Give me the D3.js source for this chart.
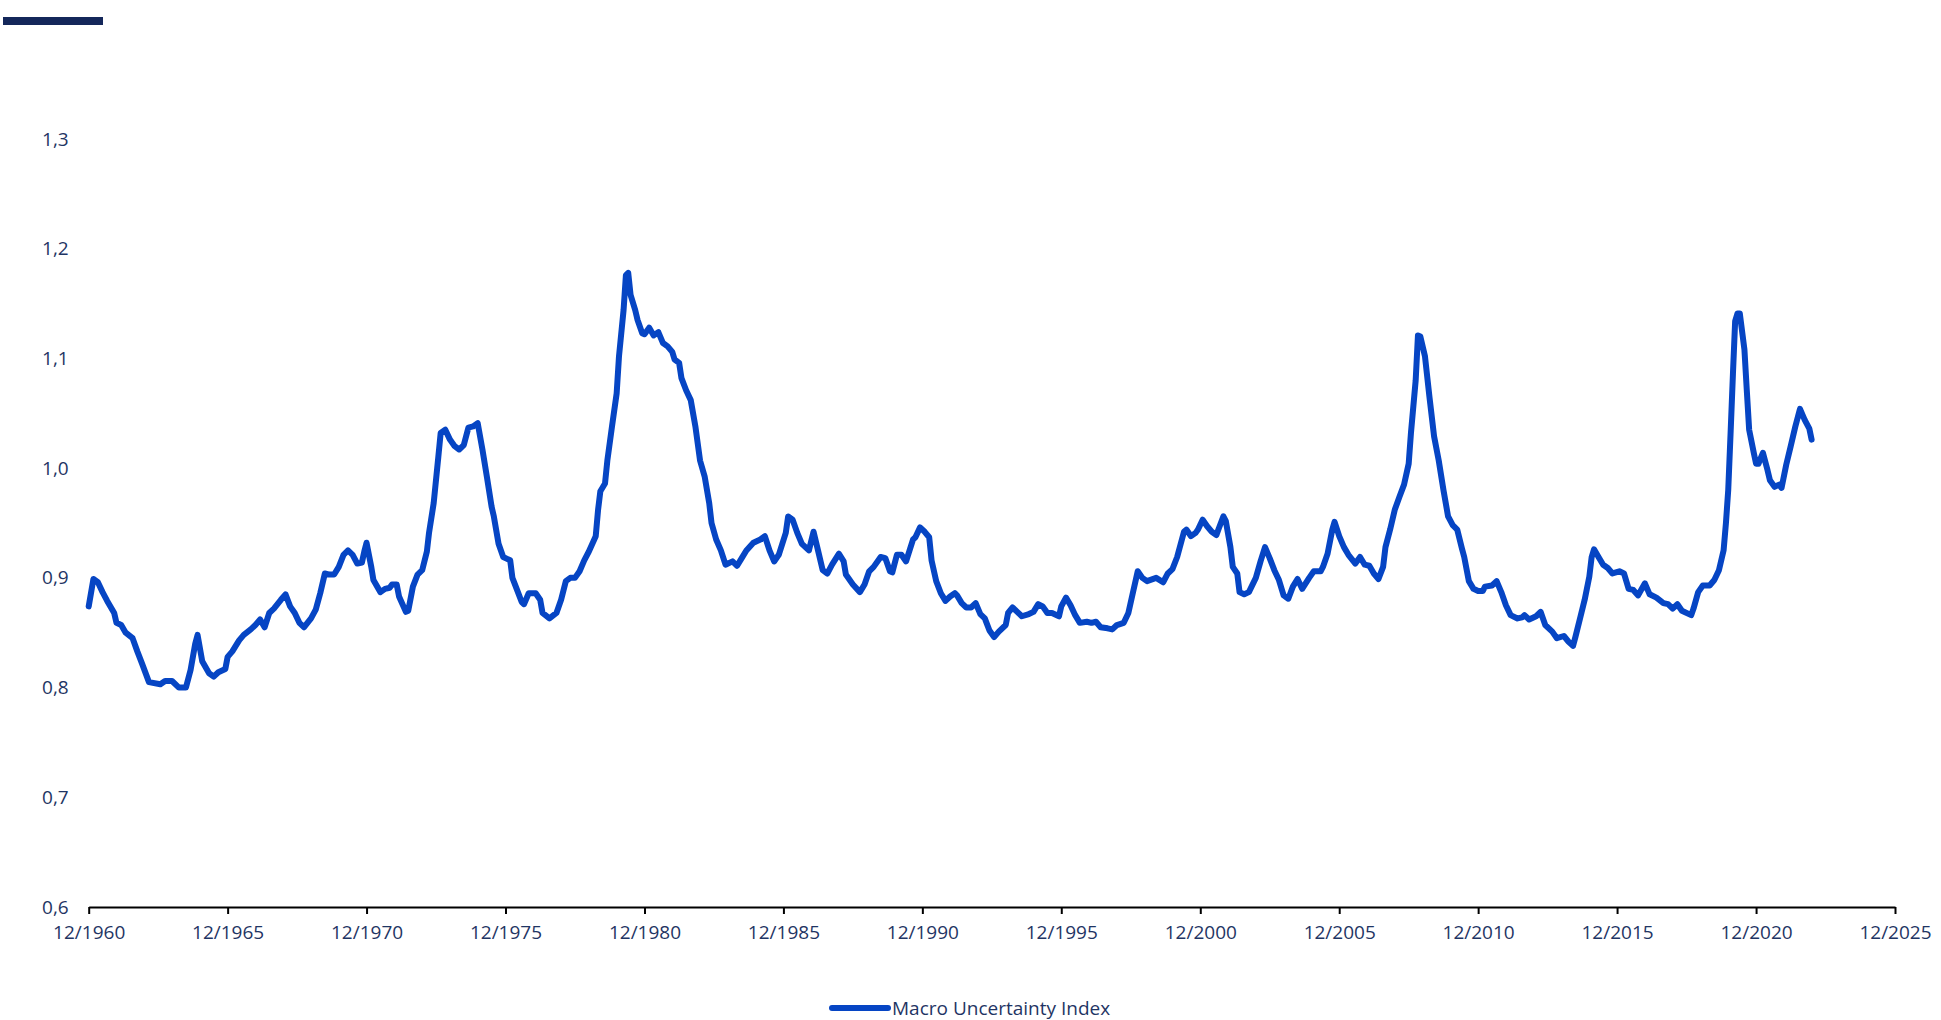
<!DOCTYPE html>
<html>
<head>
<meta charset="utf-8">
<script src="https://cdn.jsdelivr.net/npm/d3@7"></script>
<style>
  body { margin: 0; background: #fff; }
  text { font-family: "Open Sans", sans-serif; }
</style>
</head>
<body>
<script>
// Macro Uncertainty Index
var dates = [
  "1960-12","1961-02","1961-04","1961-06","1961-08","1961-11","1961-12","1962-02","1962-04","1962-07",
  "1962-09","1962-11","1963-02","1963-07","1963-09","1963-12","1964-03","1964-06","1964-08","1964-10",
  "1964-11","1965-01","1965-04","1965-06","1965-08","1965-11","1965-12","1966-02","1966-05","1966-07",
  "1966-10","1966-12","1967-02","1967-04","1967-06","1967-08","1967-11","1968-01","1968-03","1968-05",
  "1968-07","1968-09","1968-12","1969-02","1969-04","1969-06","1969-08","1969-10","1969-12","1970-02",
  "1970-04","1970-06","1970-08","1970-10","1970-11","1970-12","1971-02","1971-03","1971-06","1971-08",
  "1971-10","1971-11","1972-01","1972-02","1972-05","1972-06","1972-08","1972-10","1972-12","1973-02",
  "1973-03","1973-05","1973-07","1973-08","1973-10","1973-12","1974-02","1974-04","1974-06","1974-08",
  "1974-10","1974-12","1975-02","1975-04","1975-06","1975-07","1975-09","1975-11","1976-02","1976-03",
  "1976-05","1976-07","1976-08","1976-10","1977-01","1977-03","1977-04","1977-07","1977-10","1977-12",
  "1978-02","1978-04","1978-06","1978-08","1978-10","1978-12","1979-03","1979-04","1979-05","1979-07",
  "1979-08","1979-10","1979-12","1980-01","1980-03","1980-04","1980-05","1980-06","1980-08","1980-09",
  "1980-11","1980-12","1981-02","1981-04","1981-06","1981-08","1981-10","1981-12","1982-01","1982-03",
  "1982-04","1982-06","1982-08","1982-10","1982-12","1983-02","1983-04","1983-05","1983-07","1983-09",
  "1983-11","1984-02","1984-04","1984-06","1984-08","1984-11","1985-02","1985-04","1985-06","1985-08",
  "1985-10","1986-01","1986-02","1986-04","1986-06","1986-08","1986-11","1987-01","1987-03","1987-05",
  "1987-07","1987-09","1987-12","1988-02","1988-03","1988-06","1988-09","1988-11","1989-01","1989-03",
  "1989-06","1989-08","1989-10","1989-11","1990-01","1990-03","1990-05","1990-08","1990-09","1990-11",
  "1991-01","1991-03","1991-04","1991-06","1991-08","1991-10","1991-12","1992-02","1992-03","1992-05",
  "1992-07","1992-09","1992-11","1993-01","1993-03","1993-05","1993-07","1993-09","1993-12","1994-01",
  "1994-03","1994-05","1994-07","1994-10","1994-12","1995-02","1995-04","1995-06","1995-08","1995-11",
  "1995-12","1996-02","1996-04","1996-06","1996-08","1996-11","1997-01","1997-03","1997-05","1997-08",
  "1997-10","1997-12","1998-03","1998-05","1998-07","1998-09","1998-11","1999-01","1999-05","1999-08",
  "1999-10","1999-12","2000-02","2000-05","2000-06","2000-08","2000-10","2000-11","2001-01","2001-03",
  "2001-05","2001-07","2001-08","2001-10","2001-11","2002-01","2002-02","2002-04","2002-05","2002-07",
  "2002-09","2002-12","2003-02","2003-04","2003-06","2003-08","2003-10","2003-12","2004-02","2004-04",
  "2004-06","2004-08","2004-11","2005-01","2005-04","2005-05","2005-07","2005-09","2005-10","2005-12",
  "2006-02","2006-04","2006-07","2006-09","2006-11","2007-01","2007-03","2007-05","2007-07","2007-08",
  "2007-10","2007-12","2008-02","2008-04","2008-06","2008-07","2008-09","2008-10","2008-11","2009-01",
  "2009-03","2009-05","2009-07","2009-09","2009-11","2010-01","2010-03","2010-05","2010-06","2010-08",
  "2010-10","2010-12","2011-02","2011-03","2011-06","2011-08","2011-10","2011-12","2012-02","2012-05",
  "2012-07","2012-08","2012-10","2013-01","2013-03","2013-05","2013-08","2013-10","2014-01","2014-03",
  "2014-05","2014-06","2014-08","2014-10","2014-12","2015-01","2015-02","2015-04","2015-06","2015-08",
  "2015-10","2016-01","2016-03","2016-05","2016-07","2016-09","2016-12","2017-02","2017-05","2017-08",
  "2017-10","2017-12","2018-02","2018-04","2018-08","2018-09","2018-11","2019-01","2019-04","2019-06",
  "2019-08","2019-10","2019-11","2019-12","2020-01","2020-02","2020-03","2020-04","2020-05","2020-07",
  "2020-08","2020-09","2020-11","2020-12","2021-01","2021-03","2021-05","2021-06","2021-08","2021-10",
  "2021-11","2022-01","2022-03","2022-05","2022-07","2022-09","2022-11","2022-12"
];

var values = [
  0.874,0.899,0.896,0.887,0.879,0.868,0.859,0.857,0.850,0.845,
  0.833,0.822,0.805,0.803,0.806,0.806,0.800,0.800,0.816,0.840,
  0.848,0.824,0.813,0.810,0.814,0.817,0.828,0.833,0.843,0.848,
  0.853,0.857,0.862,0.855,0.868,0.872,0.880,0.885,0.874,0.868,
  0.859,0.855,0.863,0.871,0.886,0.904,0.903,0.903,0.910,0.921,
  0.925,0.921,0.913,0.914,0.924,0.932,0.910,0.898,0.887,0.890,
  0.891,0.894,0.894,0.883,0.869,0.870,0.892,0.903,0.907,0.924,
  0.941,0.968,1.010,1.032,1.035,1.026,1.020,1.017,1.021,1.037,
  1.038,1.041,1.017,0.992,0.965,0.956,0.931,0.919,0.916,0.900,
  0.889,0.878,0.876,0.886,0.886,0.880,0.868,0.863,0.868,0.880,
  0.897,0.900,0.900,0.906,0.916,0.924,0.938,0.962,0.979,0.986,
  1.007,1.038,1.068,1.102,1.144,1.176,1.178,1.158,1.144,1.135,
  1.123,1.122,1.128,1.121,1.124,1.114,1.111,1.106,1.099,1.096,
  1.082,1.071,1.062,1.038,1.007,0.992,0.968,0.950,0.935,0.925,
  0.912,0.915,0.911,0.918,0.925,0.932,0.935,0.938,0.925,0.915,
  0.921,0.941,0.956,0.953,0.941,0.931,0.925,0.942,0.925,0.907,
  0.904,0.912,0.922,0.915,0.903,0.894,0.887,0.894,0.906,0.910,
  0.919,0.918,0.906,0.905,0.921,0.921,0.915,0.935,0.937,0.946,
  0.942,0.937,0.916,0.897,0.886,0.879,0.883,0.886,0.884,0.877,
  0.873,0.873,0.877,0.867,0.863,0.852,0.846,0.851,0.857,0.868,
  0.873,0.869,0.865,0.867,0.869,0.876,0.874,0.868,0.868,0.865,
  0.874,0.882,0.875,0.866,0.859,0.860,0.859,0.860,0.855,0.854,
  0.853,0.857,0.859,0.868,0.887,0.906,0.900,0.897,0.900,0.896,
  0.904,0.908,0.919,0.942,0.944,0.938,0.941,0.944,0.953,0.947,
  0.942,0.939,0.945,0.956,0.952,0.928,0.910,0.904,0.887,0.885,
  0.887,0.900,0.915,0.928,0.918,0.907,0.898,0.884,0.881,0.892,
  0.899,0.890,0.900,0.906,0.906,0.910,0.922,0.944,0.951,0.938,
  0.928,0.921,0.913,0.919,0.912,0.911,0.904,0.899,0.910,0.928,
  0.944,0.962,0.974,0.985,1.004,1.032,1.080,1.121,1.120,1.102,
  1.065,1.029,1.007,0.980,0.956,0.948,0.944,0.927,0.919,0.897,
  0.890,0.888,0.888,0.892,0.893,0.897,0.887,0.875,0.866,0.863,
  0.864,0.866,0.862,0.865,0.869,0.857,0.851,0.845,0.847,0.842,
  0.838,0.846,0.863,0.880,0.901,0.919,0.926,0.919,0.912,0.909,
  0.904,0.906,0.904,0.890,0.889,0.884,0.895,0.885,0.882,0.877,
  0.876,0.872,0.876,0.870,0.866,0.872,0.887,0.893,0.893,0.898,
  0.907,0.925,0.950,0.980,1.032,1.086,1.134,1.141,1.141,1.108,
  1.071,1.035,1.014,1.004,1.004,1.014,0.998,0.989,0.983,0.985,
  0.982,1.003,1.020,1.038,1.054,1.044,1.036,1.026
];

var xTicks = ["1960-12","1965-12","1970-12","1975-12","1980-12","1985-12",
              "1990-12","1995-12","2000-12","2005-12","2010-12","2015-12","2020-12","2025-12"];
var yTicks = [0.6, 0.7, 0.8, 0.9, 1.0, 1.1, 1.2, 1.3];
var seriesName = "Macro Uncertainty Index";

var textColor = "#1f3564";
var lineColor = "#0645c4";

var parse = d3.timeParse("%Y-%m");
var data = dates.map(function(d, i) { return { date: parse(d), value: values[i] }; });

var svg = d3.select("body")
  .append("svg")
  .attr("width", 1941)
  .attr("height", 1020);

// small header bar
svg.append("rect")
  .attr("x", 3).attr("y", 17)
  .attr("width", 100).attr("height", 8)
  .attr("fill", "#14275a");

var x = d3.scaleTime()
  .domain([parse(xTicks[0]), parse(xTicks[xTicks.length - 1])])
  .range([88.7, 1895]);

var y = d3.scaleLinear()
  .domain([0.6, 1.3])
  .range([907, 139]);

// y labels only, no axis line
var yAxis = svg.append("g")
  .attr("transform", "translate(88.7,0)")
  .call(d3.axisLeft(y)
    .tickValues(yTicks)
    .tickSize(0)
    .tickPadding(20)
    .tickFormat(function(d) { return d3.format(".1f")(d).replace(".", ","); }));
yAxis.select(".domain").remove();
yAxis.selectAll("text")
  .attr("fill", textColor)
  .style("font-size", "19px")
  .style("font-family", "'Open Sans', sans-serif");

var xAxis = svg.append("g")
  .attr("transform", "translate(0,907)")
  .call(d3.axisBottom(x)
    .tickValues(xTicks.map(parse))
    .tickSizeOuter(0)
    .tickSizeInner(7)
    .tickPadding(12)
    .tickFormat(d3.timeFormat("%m/%Y")));
xAxis.select(".domain").attr("stroke", "#000").attr("stroke-width", 2);
xAxis.selectAll(".tick line").attr("stroke", "#000").attr("stroke-width", 2);
xAxis.selectAll("text")
  .attr("fill", textColor)
  .style("font-size", "19px")
  .style("font-family", "'Open Sans', sans-serif");

var line = d3.line()
  .x(function(d) { return x(d.date); })
  .y(function(d) { return y(d.value); });

svg.append("path")
  .datum(data)
  .attr("d", line)
  .attr("fill", "none")
  .attr("stroke", lineColor)
  .attr("stroke-width", 6)
  .attr("stroke-linejoin", "round")
  .attr("stroke-linecap", "round");

// legend
var legend = svg.append("g").attr("transform", "translate(832,1008)");
legend.append("line")
  .attr("x1", 0).attr("x2", 56)
  .attr("y1", 0).attr("y2", 0)
  .attr("stroke", lineColor)
  .attr("stroke-width", 6)
  .attr("stroke-linecap", "round");
legend.append("text")
  .attr("x", 60).attr("y", 0)
  .attr("dy", "0.35em")
  .attr("fill", textColor)
  .style("font-size", "19px")
  .text(seriesName);
</script>
</body>
</html>
